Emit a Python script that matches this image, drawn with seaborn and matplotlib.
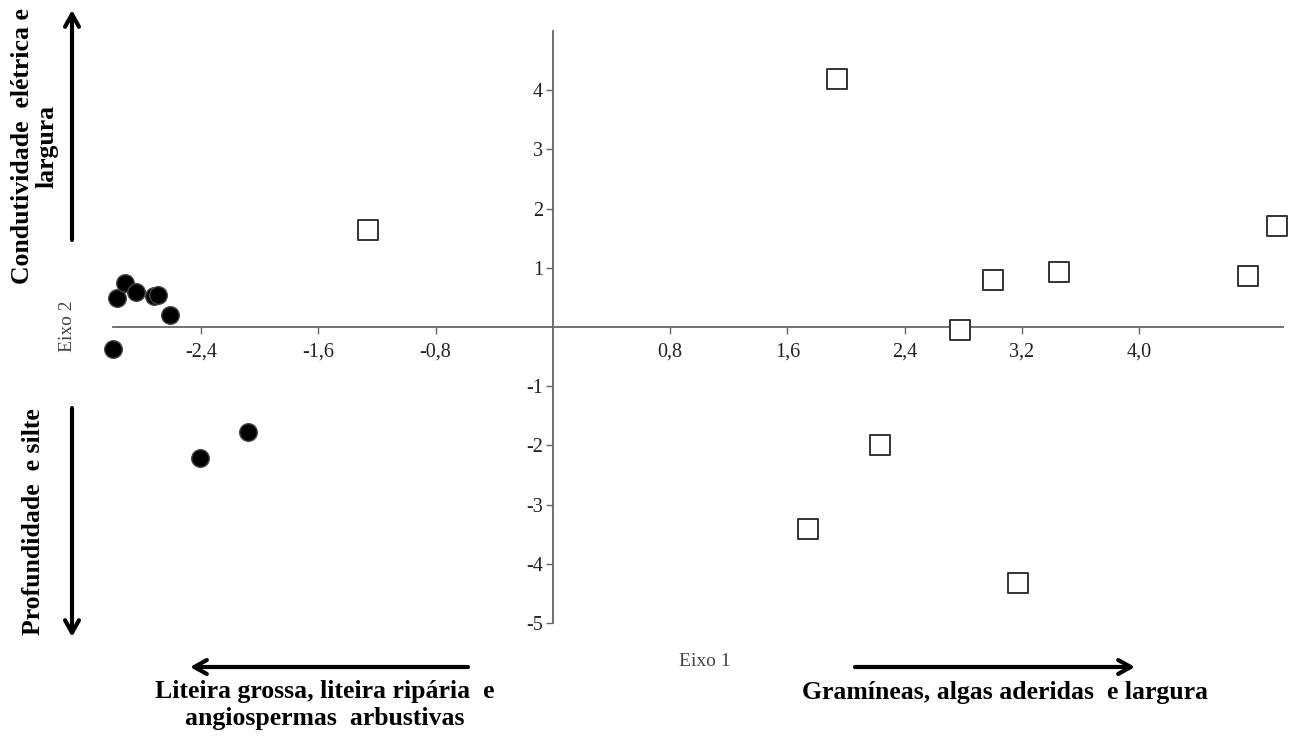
"""
Ordination scatter (Eixo 1 x Eixo 2) with axes crossing at the origin.
"""

import matplotlib

matplotlib.use("Agg")

import matplotlib.pyplot as plt
import pandas as pd
import seaborn as sns

# Sites grouped by substrate (filled circles vs open squares)
circle_x = [-3.00, -2.97, -2.92, -2.84, -2.72, -2.69, -2.61, -2.41, -2.08]
circle_y = [-0.37, 0.49, 0.74, 0.59, 0.52, 0.54, 0.20, -2.21, -1.77]

square_x = [-1.26, 1.94, 2.23, 1.74, 2.78, 3.00, 3.45, 3.17, 4.74, 4.94]
square_y = [1.64, 4.19, -1.99, -3.41, -0.05, 0.79, 0.93, -4.32, 0.86, 1.71]

x_ticks = [-2.4, -1.6, -0.8, 0.8, 1.6, 2.4, 3.2, 4.0]
x_tick_labels = ["-2,4", "-1,6", "-0,8", "0,8", "1,6", "2,4", "3,2", "4,0"]
y_ticks = [4, 3, 2, 1, -1, -2, -3, -4, -5]
y_tick_labels = ["4", "3", "2", "1", "-1", "-2", "-3", "-4", "-5"]

W, H = 1295, 736
SERIF = ["Liberation Serif", "DejaVu Serif"]


def fig_xy(px, py):
    """Pixel position (top-left origin) to figure fraction."""
    return px / W, 1 - py / H


sns.set_style("white")
plt.rcParams["font.family"] = SERIF
plt.rcParams["text.color"] = "black"

fig = plt.figure(figsize=(W / 100, H / 100), dpi=100)
ax = fig.add_axes([113 / W, 1 - 623 / H, (1283 - 113) / W, (623 - 31) / H])

circles = pd.DataFrame({"x": circle_x, "y": circle_y})
squares = pd.DataFrame({"x": square_x, "y": square_y})

sns.scatterplot(
    data=circles, x="x", y="y", marker="o", s=160,
    color="black", edgecolor="#444444", linewidth=1.0, ax=ax, zorder=3, clip_on=False,
)
sns.scatterplot(
    data=squares, x="x", y="y", marker="s", s=200,
    facecolor="white", edgecolor="#333333", linewidth=1.4, ax=ax, zorder=3, clip_on=False,
)

ax.set_xlim(-3.0, 4.98)
ax.set_ylim(-5.0, 5.0)

for side in ["top", "right"]:
    ax.spines[side].set_visible(False)
ax.spines["left"].set_position(("data", 0))
ax.spines["bottom"].set_position(("data", 0))
for side in ["left", "bottom"]:
    ax.spines[side].set_color("#666666")
    ax.spines[side].set_linewidth(1.3)

ax.set_xticks(x_ticks)
ax.set_xticklabels(x_tick_labels)
ax.set_yticks(y_ticks)
ax.set_yticklabels(y_tick_labels)
ax.tick_params(axis="both", direction="out", length=5, width=1.0, bottom=True, left=True,
               color="#666666", labelsize=14.5, labelcolor="#222222")
ax.tick_params(axis="x", pad=6)
ax.tick_params(axis="y", pad=2)
ax.set_xlabel("")
ax.set_ylabel("")

# Axis names
fig.text(*fig_xy(68, 326), "Eixo 2", rotation=90, ha="center", va="center",
         fontsize=14, color="#444444")
fig.text(*fig_xy(705, 662), "Eixo 1", ha="center", va="center",
         fontsize=14, color="#444444")

arrow = dict(arrowstyle="->,head_length=0.9,head_width=0.5", lw=3, color="black",
             shrinkA=0, shrinkB=0)

# Vertical arrows with interpretation
ax.annotate("", xy=fig_xy(72, 10), xytext=fig_xy(72, 240),
            xycoords="figure fraction", textcoords="figure fraction", arrowprops=arrow)
ax.annotate("", xy=fig_xy(72, 637), xytext=fig_xy(72, 408),
            xycoords="figure fraction", textcoords="figure fraction", arrowprops=arrow)
fig.text(*fig_xy(35, 146), "Condutividade  elétrica e\nlargura", rotation=90,
         ha="center", va="center", fontsize=18.5, fontweight="bold", linespacing=1.1)
fig.text(*fig_xy(34, 522), "Profundidade  e silte", rotation=90,
         ha="center", va="center", fontsize=18.5, fontweight="bold")

# Horizontal arrows with interpretation
ax.annotate("", xy=fig_xy(190, 667), xytext=fig_xy(468, 667),
            xycoords="figure fraction", textcoords="figure fraction", arrowprops=arrow)
ax.annotate("", xy=fig_xy(1135, 667), xytext=fig_xy(855, 667),
            xycoords="figure fraction", textcoords="figure fraction", arrowprops=arrow)
fig.text(*fig_xy(325, 705), "Liteira grossa, liteira ripária  e\nangiospermas  arbustivas",
         ha="center", va="center", fontsize=18.5, fontweight="bold", linespacing=1.2)
fig.text(*fig_xy(1005, 692), "Gramíneas, algas aderidas  e largura",
         ha="center", va="center", fontsize=18.5, fontweight="bold")

fig.savefig("out.png", dpi=100)
plt.close(fig)
